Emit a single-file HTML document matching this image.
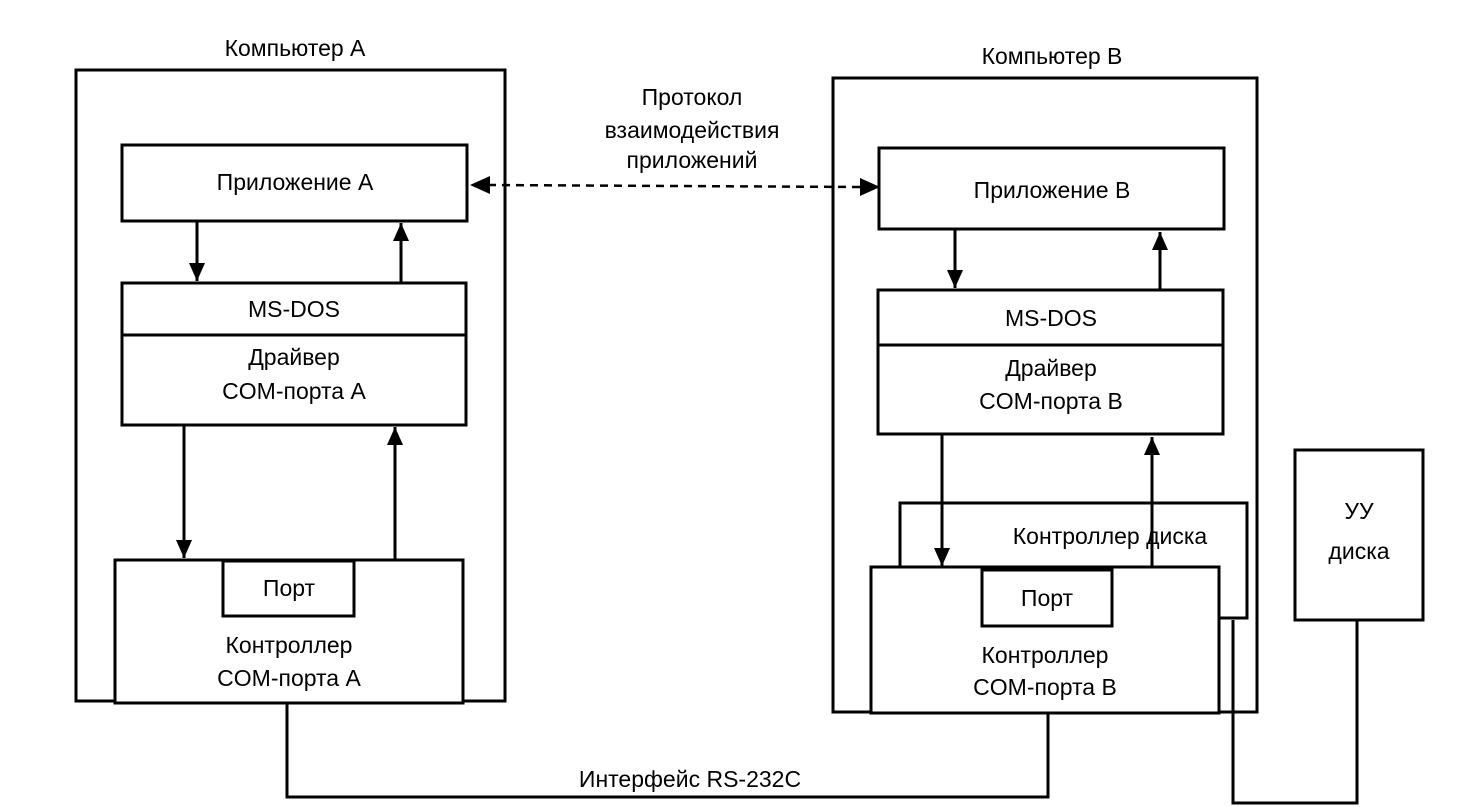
<!DOCTYPE html>
<html><head><meta charset="utf-8"><style>
html,body{margin:0;padding:0;background:#fff}
svg{display:block}
text{font-family:"Liberation Sans",sans-serif;font-size:23px;fill:#000;text-anchor:middle}
</style></head><body>
<svg width="1460" height="807" viewBox="0 0 1460 807" xmlns="http://www.w3.org/2000/svg">
<defs>
<marker id="ah" markerWidth="10" markerHeight="10" refX="9" refY="5" orient="auto" markerUnits="userSpaceOnUse" viewBox="0 0 10 10"><path d="M0,0 L10,5 L0,10 z" fill="#000"/></marker>
<marker id="a2" markerWidth="20" markerHeight="20" refX="18" refY="10" orient="auto" markerUnits="userSpaceOnUse" viewBox="0 0 20 20"><path d="M0,2 L18,10 L0,18 z" fill="#000"/></marker>
</defs>
<g fill="none" stroke="#000" stroke-width="3">
<!-- Computer A -->
<rect x="76" y="70" width="429" height="631"/>
<rect x="122" y="145" width="345" height="76" fill="#fff"/>
<rect x="122" y="283" width="344" height="142" fill="#fff"/>
<line x1="122" y1="335" x2="466" y2="335"/>
<rect x="115" y="560" width="348" height="143" fill="#fff"/>
<rect x="223" y="561" width="131" height="55"/>
<line x1="197" y1="221" x2="197" y2="281" marker-end="url(#a2)"/>
<line x1="401" y1="283" x2="401" y2="223" marker-end="url(#a2)"/>
<line x1="184" y1="425" x2="184" y2="558" marker-end="url(#a2)"/>
<line x1="395" y1="560" x2="395" y2="427" marker-end="url(#a2)"/>
<!-- Computer B -->
<rect x="833" y="78" width="424" height="634"/>
<rect x="879" y="148" width="345" height="81" fill="#fff"/>
<rect x="878" y="290" width="345" height="144" fill="#fff"/>
<line x1="878" y1="345" x2="1223" y2="345"/>
<rect x="900" y="503" width="347" height="115" fill="#fff"/>
<rect x="871" y="567" width="348" height="146" fill="#fff"/>
<rect x="982" y="570" width="130" height="56"/>
<line x1="955" y1="229" x2="955" y2="288" marker-end="url(#a2)"/>
<line x1="1160" y1="290" x2="1160" y2="232" marker-end="url(#a2)"/>
<line x1="942" y1="434" x2="942" y2="566" marker-end="url(#a2)"/>
<line x1="1152" y1="568" x2="1152" y2="437" marker-end="url(#a2)"/>
<rect x="1295" y="450" width="128" height="170"/>
<polyline points="287,703 287,797 1048,797 1048,713"/>
<polyline points="1233,620 1233,803 1357,803 1357,620"/>
<line x1="488" y1="185" x2="860" y2="187" stroke-width="2.5" stroke-dasharray="8,6"/>
</g>
<path d="M470,185 L490,176 L490,194 z" fill="#000"/>
<path d="M880,187 L860,178 L860,196 z" fill="#000"/>
<text x="295" y="56">Компьютер А</text>
<text x="1052" y="64">Компьютер В</text>
<text x="692" y="105">Протокол</text>
<text x="692" y="138">взаимодействия</text>
<text x="692" y="168">приложений</text>
<text x="295" y="190">Приложение А</text>
<text x="1052" y="198">Приложение В</text>
<text x="294" y="317">MS-DOS</text>
<text x="294" y="365">Драйвер</text>
<text x="294" y="399">COM-порта А</text>
<text x="1051" y="326">MS-DOS</text>
<text x="1051" y="376">Драйвер</text>
<text x="1051" y="409">COM-порта В</text>
<text x="289" y="596">Порт</text>
<text x="289" y="653">Контроллер</text>
<text x="289" y="686">COM-порта А</text>
<text x="1110" y="544">Контроллер диска</text>
<text x="1047" y="606">Порт</text>
<text x="1045" y="663">Контроллер</text>
<text x="1045" y="695">COM-порта В</text>
<text x="1359" y="519">УУ</text>
<text x="1359" y="559">диска</text>
<text x="690" y="787">Интерфейс RS-232C</text>
</svg>
</body></html>
